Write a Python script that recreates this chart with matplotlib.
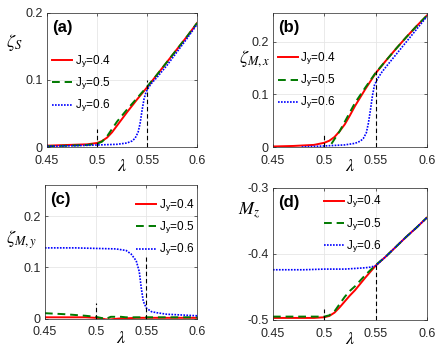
import matplotlib.pyplot as plt

plt.rcParams['font.family'] = ['Liberation Sans', 'DejaVu Sans']
plt.rcParams['mathtext.fontset'] = 'stix'

# common lambda grid for J_y=0.4 and 0.5 curves
lam = [0.45, 0.47, 0.49, 0.50, 0.505, 0.51, 0.515, 0.52, 0.525, 0.53,
       0.54, 0.55, 0.56, 0.57, 0.58, 0.59, 0.60]

# (a) zeta_S
zs_04 = [0.002, 0.003, 0.004, 0.006, 0.009, 0.014, 0.022, 0.032, 0.042, 0.052,
         0.071, 0.089, 0.108, 0.127, 0.146, 0.165, 0.185]
zs_05 = [0.001, 0.002, 0.003, 0.005, 0.008, 0.016, 0.027, 0.038, 0.047, 0.056,
         0.073, 0.090, 0.108, 0.127, 0.146, 0.165, 0.185]
lam_zs_06 = [0.45, 0.48, 0.50, 0.52, 0.53, 0.535, 0.538, 0.541, 0.543, 0.545,
             0.547, 0.549, 0.552, 0.555, 0.56, 0.57, 0.58, 0.59, 0.60]
zs_06 = [0.001, 0.002, 0.003, 0.004, 0.006, 0.009, 0.013, 0.022, 0.035, 0.055,
         0.072, 0.082, 0.090, 0.096, 0.104, 0.122, 0.142, 0.162, 0.183]

# (b) zeta_M,x
zx_04 = [0.001, 0.002, 0.004, 0.008, 0.012, 0.019, 0.030, 0.043, 0.060, 0.078,
         0.110, 0.140, 0.164, 0.187, 0.209, 0.230, 0.250]
lam_zx_05 = [0.507, 0.51, 0.515, 0.52, 0.525, 0.53, 0.54, 0.55, 0.56, 0.57,
             0.58, 0.59, 0.60]
zx_05 = [0.006, 0.015, 0.030, 0.048, 0.066, 0.084, 0.113, 0.141, 0.164, 0.187,
         0.209, 0.230, 0.250]
lam_zx_06 = [0.478, 0.50, 0.52, 0.53, 0.535, 0.538, 0.541, 0.543, 0.545, 0.547,
             0.549, 0.552, 0.556, 0.56, 0.57, 0.58, 0.59, 0.60]
zx_06 = [0.000, 0.002, 0.004, 0.007, 0.011, 0.016, 0.027, 0.045, 0.070, 0.098,
         0.118, 0.130, 0.142, 0.152, 0.176, 0.200, 0.224, 0.248]

# (c) zeta_M,y
zy_04 = [0.003, 0.003, 0.003, 0.002, 0.001, -0.001, -0.001, 0.000, 0.001, 0.001,
         0.002, 0.002, 0.002, 0.002, 0.002, 0.002, 0.002]
zy_05 = [0.011, 0.009, 0.006, 0.004, 0.002, 0.000, 0.004, 0.004, 0.004, 0.003,
         0.003, 0.003, 0.003, 0.003, 0.003, 0.003, 0.003]
lam_zy_06 = [0.45, 0.48, 0.50, 0.52, 0.53, 0.535, 0.54, 0.543, 0.545, 0.547,
             0.55, 0.555, 0.56, 0.57, 0.58, 0.59, 0.60]
zy_06 = [0.138, 0.138, 0.137, 0.136, 0.133, 0.126, 0.113, 0.092, 0.060, 0.034,
         0.021, 0.014, 0.012, 0.009, 0.008, 0.007, 0.006]

# (d) M_z
mz_04 = [-0.497, -0.497, -0.497, -0.496, -0.494, -0.489, -0.481, -0.472, -0.463, -0.455,
         -0.436, -0.418, -0.404, -0.389, -0.374, -0.360, -0.345]
mz_05 = [-0.495, -0.495, -0.495, -0.495, -0.493, -0.487, -0.476, -0.465, -0.456, -0.449,
         -0.432, -0.417, -0.404, -0.389, -0.374, -0.360, -0.345]
lam_mz_06 = [0.45, 0.48, 0.50, 0.52, 0.53, 0.54, 0.545, 0.55, 0.56, 0.57, 0.58, 0.59, 0.60]
mz_06 = [-0.424, -0.424, -0.423, -0.423, -0.422, -0.421, -0.420, -0.418, -0.404,
         -0.389, -0.374, -0.360, -0.345]

labels = ['J$_\\mathregular{y}$=0.4', 'J$_\\mathregular{y}$=0.5', 'J$_\\mathregular{y}$=0.6']

# vertical dashed markers (x, top)
marks_a = [(0.50, 0.027), (0.55, 0.10)]
marks_b = [(0.50, 0.027), (0.55, 0.15)]
marks_c = [(0.50, 0.030), (0.55, 0.12)]
marks_d = [(0.50, -0.483), (0.55, -0.414)]

fig = plt.figure(figsize=(4.36, 3.5), dpi=100)
ax_a = fig.add_axes([0.108, 0.580, 0.344, 0.383])
ax_b = fig.add_axes([0.626, 0.580, 0.353, 0.383])
ax_c = fig.add_axes([0.103, 0.089, 0.349, 0.382])
ax_d = fig.add_axes([0.626, 0.086, 0.353, 0.377])

panels = [
    (ax_a, 'a', (lam, zs_04), (lam, zs_05), (lam_zs_06, zs_06), marks_a,
     (0, 0.2), [0, 0.1, 0.2], ['0', '0.1', '0.2'], r'$\zeta_S$',
     (0.035, 0.70), (-0.16, 0.78)),
    (ax_b, 'b', (lam, zx_04), (lam_zx_05, zx_05), (lam_zx_06, zx_06), marks_b,
     (0, 0.255), [0, 0.1, 0.2], ['0', '0.1', '0.2'], r'$\zeta_{M,x}$',
     (0.03, 0.72), (-0.02, 0.66)),
    (ax_c, 'c', (lam, zy_04), (lam, zy_05), (lam_zy_06, zy_06), marks_c,
     (0, 0.26), [0, 0.1, 0.2], ['0', '0.1', '0.2'], r'$\zeta_{M,y}$',
     (0.60, 0.91), (-0.05, 0.59)),
    (ax_d, 'd', (lam, mz_04), (lam, mz_05), (lam_mz_06, mz_06), marks_d,
     (-0.5, -0.3), [-0.5, -0.4, -0.3], ['-0.5', '-0.4', '-0.3'], r'$M_z$',
     (0.33, 0.955), (-0.085, 0.83)),
]

for ax, tag, r, g, b, marks, ylim, yt, ytl, ylab, legpos, labpos in panels:
    ax.plot(r[0], r[1], color='#ff0000', lw=1.4, label=labels[0])
    ax.plot(g[0], g[1], color='#007a00', lw=1.4, ls=(0, (4, 2.5)), label=labels[1])
    ax.plot(b[0], b[1], color='#0000ff', lw=1.2, ls=(0, (1, 0.8)), label=labels[2])
    for xm, ym in marks:
        ax.plot([xm, xm], [ylim[0], ym], color='black', lw=0.8, ls=(0, (4, 2.5)))
    ax.set_xlim(0.45, 0.6)
    ax.set_ylim(*ylim)
    ax.set_xticks([0.45, 0.5, 0.55, 0.6])
    ax.set_xticklabels(['0.45', '0.5', '0.55', '0.6'])
    ax.set_yticks(yt)
    ax.set_yticklabels(ytl)
    ax.grid(True, color='#e6e6e6', lw=0.6)
    ax.set_axisbelow(True)
    ax.tick_params(direction='in', length=2.5, width=0.5, labelsize=9,
                   colors='#262626', top=True, right=True)
    ax.tick_params(axis='x', pad=5.5)
    ax.tick_params(axis='y', pad=3)
    for s in ax.spines.values():
        s.set_color('#262626')
        s.set_linewidth(0.5)
    ax.text(0.035, 0.95, '(' + tag + ')', transform=ax.transAxes, fontsize=12,
            fontweight='bold', va='top', ha='left')
    ax.text(labpos[0], labpos[1], ylab, transform=ax.transAxes,
            fontsize=13, va='center', ha='right')
    ax.set_xlabel(r'$\lambda$', fontsize=13, labelpad=-6)
    ax.legend(loc='upper left', bbox_to_anchor=legpos, frameon=False, fontsize=8.5,
              handlelength=1.7, handletextpad=0.2, labelspacing=0.5,
              borderpad=0, borderaxespad=0)

fig.savefig('out.png', dpi=100)
